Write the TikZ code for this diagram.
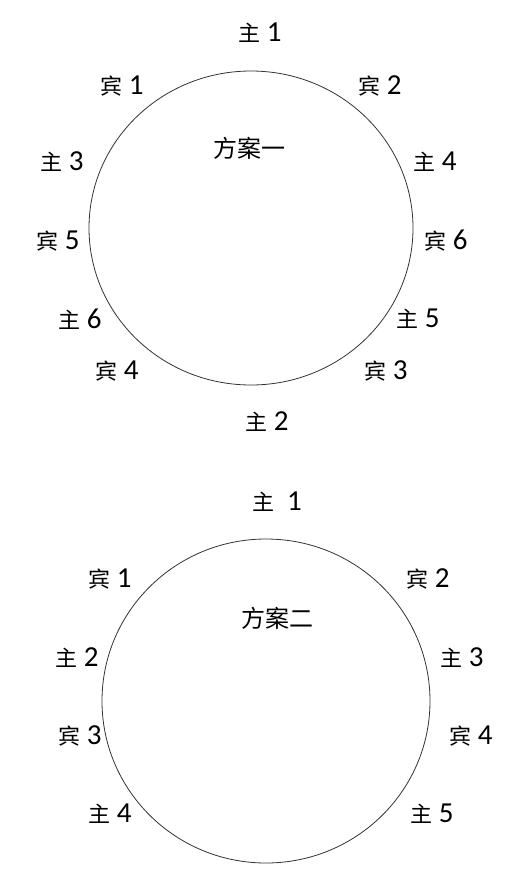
\documentclass[tikz,border=0pt]{standalone}
\usepackage{fontspec}
\setmainfont{Carlito}
\newfontfamily\cjk{Noto Sans CJK SC}
\newcommand\zh[1]{{\cjk\fontsize{22bp}{22bp}\selectfont #1}}
\begin{document}
\begin{tikzpicture}[x=1bp,y=-1bp,
  lab/.style={inner sep=0pt, font=\fontsize{29bp}{29bp}\selectfont},
  ttl/.style={inner sep=0pt, font=\cjk\fontsize{24bp}{24bp}\selectfont},
  ring/.style={draw=black!80, line width=0.8bp}]
\useasboundingbox[fill=white] (0,0) rectangle (528,892);
% Scheme one
\draw[ring] (251,228) ellipse [x radius=162, y radius=157];
\node[ttl] (t1) at (249,148) {方案一};
\node[lab] (a1) at (260,33) {\zh{主} 1};
\node[lab] (a2) at (122,86) {\zh{宾} 1};
\node[lab] (a3) at (380,86) {\zh{宾} 2};
\node[lab] (a4) at (62,162) {\zh{主} 3};
\node[lab] (a5) at (435,162) {\zh{主} 4};
\node[lab] (a6) at (58,241) {\zh{宾} 5};
\node[lab] (a7) at (446,241) {\zh{宾} 6};
\node[lab] (a8) at (80,319) {\zh{主} 6};
\node[lab] (a9) at (418,319) {\zh{主} 5};
\node[lab] (a10) at (117,371) {\zh{宾} 4};
\node[lab] (a11) at (386,371) {\zh{宾} 3};
\node[lab] (a12) at (267,422) {\zh{主} 2};
% Scheme two
\draw[ring] (266,701) ellipse [x radius=164, y radius=162];
\node[ttl] (t2) at (277,618) {方案二};
\node[lab] (b1) at (277,502) {\zh{主}\ \ 1};
\node[lab] (b2) at (110,579) {\zh{宾} 1};
\node[lab] (b3) at (428,579) {\zh{宾} 2};
\node[lab] (b4) at (77,658) {\zh{主} 2};
\node[lab] (b5) at (462,658) {\zh{主} 3};
\node[lab] (b6) at (80,736) {\zh{宾} 3};
\node[lab] (b7) at (471,736) {\zh{宾} 4};
\node[lab] (b8) at (110,814) {\zh{主} 4};
\node[lab] (b9) at (432,814) {\zh{主} 5};
\end{tikzpicture}
\end{document}
